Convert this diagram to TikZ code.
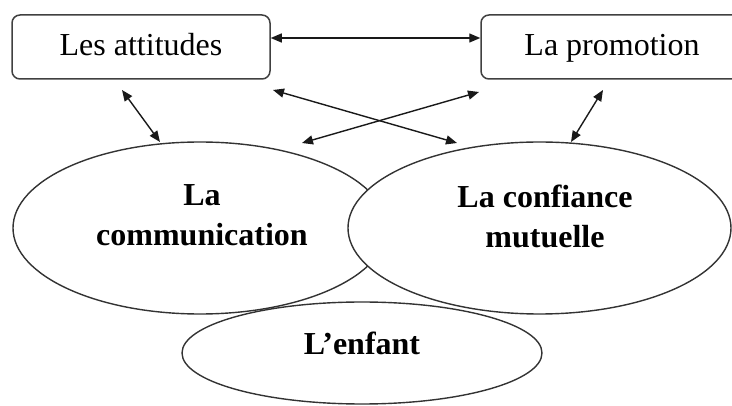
\documentclass[tikz,border=0pt]{standalone}
\usepackage{fontspec}
\setmainfont{Liberation Serif}
\usetikzlibrary{arrows.meta,shapes.geometric}
\begin{document}
\begin{tikzpicture}[x=1pt,y=-1pt,
  box/.style={draw=black!75, line width=1.5pt, rounded corners=8pt, inner sep=0pt,
    minimum height=64pt, text height=22pt, text depth=4pt, font=\fontsize{32}{38}\selectfont},
  ell/.style={draw=black!80, ellipse, line width=1.4pt, inner sep=0pt},
  lbl/.style={align=center, font=\fontsize{32}{40}\selectfont\bfseries, inner sep=0pt},
  conn/.style={{Triangle[length=11pt,width=9pt]}-{Triangle[length=11pt,width=9pt]}, line width=1.4pt, black!90}]
\useasboundingbox (0,0) rectangle (732,406);
% boxes
\node[box, minimum width=258pt] (att) at (141,47) {Les attitudes};
\node[box, minimum width=262pt] (prom) at (612,47) {La promotion};
% ellipses
\node[ell, minimum width=374pt, minimum height=172pt] (com) at (200,228) {};
\node[ell, fill=white, minimum width=383pt, minimum height=172pt] (conf) at (539.5,228) {};
\node[ell, minimum width=360pt, minimum height=102pt] (enf) at (362,353) {};
% labels
\node[lbl] (comt) at (202,215) {La\\communication};
\node[lbl] (conft) at (545,216) {La confiance\\mutuelle};
\node[lbl] (enft) at (362,343) {L’enfant};
% arrow ends
\coordinate (c1a) at (122,90);  \coordinate (c1b) at (160,142);
\coordinate (c2a) at (273,90);  \coordinate (c2b) at (457,143);
\coordinate (c3a) at (479,92);  \coordinate (c3b) at (302,143);
\coordinate (c4a) at (603,90);  \coordinate (c4b) at (571,142);
% connectors
\draw[conn] ([yshift=9pt]att.east) -- ([yshift=9pt]att.east -| prom.west);
\draw[conn] (c1a) -- (c1b);
\draw[conn] (c2a) -- (c2b);
\draw[conn] (c3a) -- (c3b);
\draw[conn] (c4a) -- (c4b);
\end{tikzpicture}
\end{document}
